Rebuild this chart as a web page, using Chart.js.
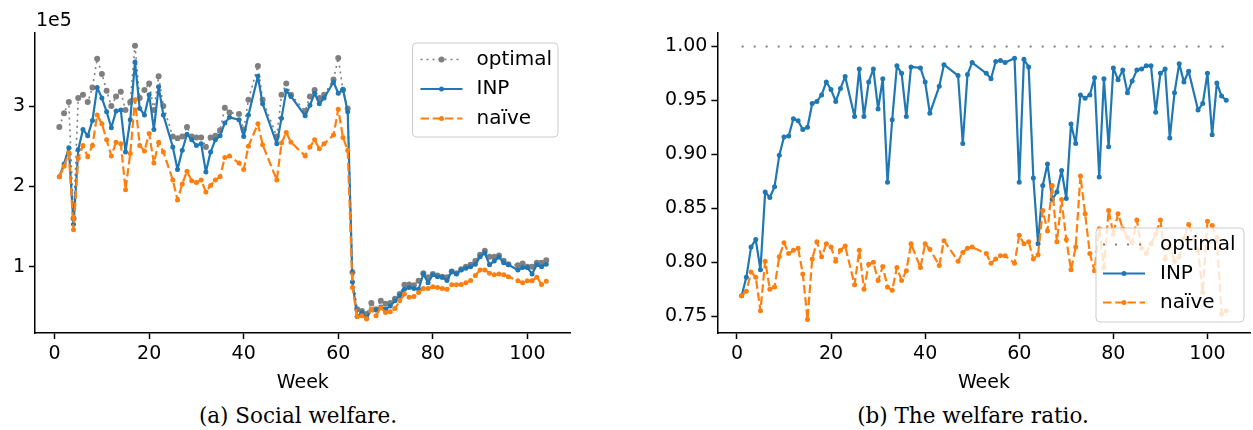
<!DOCTYPE html>
<html>
<head>
<meta charset="utf-8">
<script src="https://cdn.jsdelivr.net/npm/chart.js@4.4.1/dist/chart.umd.min.js"></script>
<style>
  html, body { margin: 0; padding: 0; background: #fff; }
  body { width: 1253px; height: 430px; position: relative; overflow: hidden; }
  .panel { position: absolute; top: 0; height: 400px; }
  .caption {
    position: absolute; top: 403px;
    font-family: "DejaVu Serif", "Liberation Serif", serif;
    font-size: 21.5px; color: #000; text-align: center; white-space: nowrap;
  }
</style>
</head>
<body>
<div class="panel" style="left:0;width:600px"><canvas id="welfare" width="600" height="400"></canvas></div>
<div class="panel" style="left:660px;width:593px"><canvas id="ratio" width="593" height="400"></canvas></div>
<div class="caption" style="left:0;width:596px">(a) Social welfare.</div>
<div class="caption" style="left:660px;width:626px">(b) The welfare ratio.</div>

<script>
// weeks with data (24, 38, 42, 45, 46, 51, 52, 58, 97 are missing)
const weeks = [
  1, 2, 3, 4, 5, 6, 7, 8, 9, 10, 11, 12, 13, 14, 15, 16, 17, 18, 19, 20, 21, 22, 23,
  25, 26, 27, 28, 29, 30, 31, 32, 33, 34, 35, 36, 37,
  39, 40, 41,
  43, 44,
  47, 48, 49, 50,
  53, 54, 55, 56, 57,
  59, 60, 61, 62, 63, 64, 65, 66, 67, 68, 69, 70, 71, 72, 73, 74, 75, 76, 77, 78,
  79, 80, 81, 82, 83, 84, 85, 86, 87, 88, 89, 90, 91, 92, 93, 94, 95, 96,
  98, 99, 100, 101, 102, 103, 104
];

// social welfare, in units of 1e5
const welfareOptimal = [
  2.74, 2.91, 3.05, 1.60, 3.10, 3.14, 3.05, 3.23, 3.59, 3.40, 3.19, 3.00, 3.12, 3.18, 2.95, 3.05, 3.75, 3.10, 3.20, 3.28, 2.95, 3.37, 3.00,
  2.62, 2.60, 2.62, 2.74, 2.62, 2.61, 2.61, 2.49, 2.61, 2.63, 2.70, 2.98, 2.92,
  2.90, 2.71, 3.08,
  3.50, 3.08,
  2.62, 3.14, 3.28, 3.14,
  2.94, 3.12, 3.20, 3.10, 3.14,
  3.33, 3.60, 3.20, 2.97, 0.93, 0.47, 0.45, 0.41, 0.55, 0.47, 0.575, 0.54, 0.55, 0.60, 0.66, 0.775, 0.78, 0.77, 0.825, 0.92,
  0.87, 0.91, 0.89, 0.875, 0.87, 0.94, 0.92, 0.97, 1.00, 1.025, 1.07, 1.15, 1.20, 1.125, 1.125, 1.14, 1.075, 1.03,
  1.02, 1.04, 1.00, 1.00, 1.05, 1.05, 1.08
];
const welfareINP = [
  2.12, 2.28, 2.48, 1.53, 2.46, 2.71, 2.63, 2.82, 3.23, 3.10, 2.93, 2.73, 2.94, 2.95, 2.43, 2.83, 3.55, 2.97, 2.89, 3.14, 2.71, 3.24, 2.89,
  2.49, 2.21, 2.45, 2.65, 2.58, 2.51, 2.53, 2.18, 2.43, 2.58, 2.63, 2.79, 2.86,
  2.83, 2.62, 2.89,
  3.37, 3.03,
  2.53, 2.85, 3.19, 3.12,
  2.88, 3.01, 3.16, 3.03, 3.10,
  3.30, 3.16, 3.21, 2.93, 0.81, 0.38, 0.43, 0.36, 0.47, 0.46, 0.50, 0.47, 0.51, 0.575, 0.64, 0.72, 0.74, 0.73, 0.72, 0.91,
  0.80, 0.90, 0.875, 0.87, 0.83, 0.94, 0.91, 0.96, 0.98, 1.00, 1.03, 1.125, 1.17, 1.025, 1.07, 1.12, 1.05, 1.025,
  0.96, 0.99, 0.99, 0.91, 1.025, 1.00, 1.03
];
const welfareNaive = [
  2.12, 2.25, 2.42, 1.46, 2.35, 2.51, 2.37, 2.51, 2.89, 2.78, 2.58, 2.38, 2.55, 2.53, 1.96, 2.41, 3.08, 2.51, 2.44, 2.66, 2.29, 2.55, 2.43,
  2.08, 1.83, 2.03, 2.19, 2.07, 2.05, 2.08, 1.93, 2.01, 2.08, 2.12, 2.36, 2.38,
  2.29, 2.21, 2.50,
  2.78, 2.52,
  2.08, 2.54, 2.67, 2.55,
  2.38, 2.49, 2.58, 2.47, 2.53,
  2.64, 2.96, 2.61, 2.45, 0.74, 0.38, 0.39, 0.35, 0.47, 0.39, 0.49, 0.43, 0.44, 0.48, 0.575, 0.66, 0.62, 0.63, 0.68, 0.73,
  0.73, 0.75, 0.74, 0.73, 0.72, 0.775, 0.775, 0.78, 0.80, 0.83, 0.89, 0.96, 0.96, 0.92, 0.90, 0.91, 0.90, 0.875,
  0.825, 0.80, 0.825, 0.825, 0.87, 0.78, 0.82
];

// welfare ratio
const ratioOptimal = [
  1, 1, 1, 1, 1, 1, 1, 1, 1, 1, 1, 1, 1, 1, 1, 1, 1, 1, 1, 1, 1, 1, 1,
  1, 1, 1, 1, 1, 1, 1, 1, 1, 1, 1, 1, 1,
  1, 1, 1,
  1, 1,
  1, 1, 1, 1,
  1, 1, 1, 1, 1,
  1, 1, 1, 1, 1, 1, 1, 1, 1, 1, 1, 1, 1, 1, 1, 1, 1, 1, 1, 1,
  1, 1, 1, 1, 1, 1, 1, 1, 1, 1, 1, 1, 1, 1, 1, 1, 1, 1,
  1, 1, 1, 1, 1, 1, 1
];
const ratioINP = [
  0.769, 0.786, 0.814, 0.821, 0.793, 0.865, 0.860, 0.870, 0.899, 0.916, 0.917, 0.933, 0.931, 0.923, 0.925, 0.947, 0.949, 0.955, 0.967, 0.960, 0.949, 0.961, 0.972,
  0.935, 0.979, 0.935, 0.967, 0.979, 0.942, 0.970, 0.874, 0.932, 0.982, 0.975, 0.935, 0.981,
  0.980, 0.967, 0.938,
  0.963, 0.983,
  0.973, 0.910, 0.974, 0.985,
  0.975, 0.970, 0.986, 0.987, 0.985,
  0.989, 0.874, 0.988, 0.981, 0.878, 0.817, 0.871, 0.891, 0.858, 0.865, 0.885, 0.859, 0.928, 0.910, 0.955, 0.952, 0.955, 0.971, 0.879, 0.970,
  0.907, 0.980, 0.969, 0.978, 0.957, 0.968, 0.978, 0.979, 0.982, 0.982, 0.939, 0.975, 0.979, 0.915, 0.957, 0.984, 0.967, 0.977,
  0.941, 0.947, 0.975, 0.918, 0.966, 0.954, 0.950
];
const ratioNaive = [
  0.769, 0.773, 0.791, 0.786, 0.755, 0.801, 0.775, 0.777, 0.805, 0.818, 0.808, 0.811, 0.813, 0.789, 0.747, 0.803, 0.819, 0.805, 0.817, 0.814, 0.801, 0.811, 0.815,
  0.779, 0.811, 0.775, 0.798, 0.800, 0.783, 0.796, 0.777, 0.774, 0.795, 0.783, 0.792, 0.817,
  0.795, 0.817, 0.812,
  0.797, 0.820,
  0.801, 0.809, 0.813, 0.814,
  0.808, 0.799, 0.803, 0.806, 0.806,
  0.799, 0.825, 0.817, 0.819, 0.803, 0.807, 0.848, 0.829, 0.871, 0.819, 0.858, 0.821, 0.793, 0.814, 0.880, 0.845, 0.808, 0.792, 0.831, 0.795,
  0.848, 0.826, 0.845, 0.831, 0.823, 0.818, 0.839, 0.813, 0.808, 0.817, 0.826, 0.839, 0.803, 0.815, 0.801, 0.805, 0.822, 0.835,
  0.811, 0.772, 0.838, 0.834, 0.823, 0.752, 0.755
];

const welfareTicks = [1, 2, 3];
const ratioTicks = [0.75, 0.80, 0.85, 0.90, 0.95, 1.00];

const BLUE = "#1f77b4";
const ORANGE = "#ff7f0e";
const GRAY = "#7f7f7f";
const FONT = "DejaVu Sans";

const toPoints = (vals) => weeks.map((w, i) => ({ x: w, y: vals[i] }));

// legend drawn inside the plot area, like matplotlib's
const insetLegend = {
  id: "insetLegend",
  afterDatasetsDraw(chart, args, opts) {
    const ctx = chart.ctx;
    ctx.save();
    ctx.beginPath();
    ctx.roundRect(opts.x, opts.y, opts.width, opts.height, 4);
    ctx.fillStyle = "rgba(255,255,255,0.8)";
    ctx.fill();
    ctx.strokeStyle = "#cccccc";
    ctx.lineWidth = 1;
    ctx.stroke();

    chart.data.datasets.forEach((ds, i) => {
      const cy = opts.y + opts.firstRow + i * opts.rowGap;
      const x0 = opts.x + opts.handleX;
      const x1 = x0 + opts.handleLen;
      ctx.setLineDash(ds.borderDash || []);
      ctx.lineDashOffset = 0;
      ctx.strokeStyle = ds.borderColor;
      ctx.lineWidth = ds.borderWidth;
      ctx.lineCap = "butt";
      ctx.beginPath();
      ctx.moveTo(x0, cy);
      ctx.lineTo(x1, cy);
      ctx.stroke();
      ctx.setLineDash([]);
      if (ds.pointRadius > 0) {
        ctx.beginPath();
        ctx.arc((x0 + x1) / 2, cy, ds.pointRadius, 0, Math.PI * 2);
        ctx.fillStyle = ds.borderColor;
        ctx.fill();
      }
      ctx.fillStyle = "#000";
      ctx.font = "20px '" + FONT + "'";
      ctx.textBaseline = "middle";
      ctx.textAlign = "left";
      ctx.fillText(ds.label, opts.x + opts.textX, cy);
    });
    ctx.restore();
  }
};

// "1e5" offset text above the y axis
const offsetText = {
  id: "offsetText",
  afterDraw(chart, args, opts) {
    if (!opts.text) return;
    const ctx = chart.ctx;
    ctx.save();
    ctx.fillStyle = "#000";
    ctx.font = "19px '" + FONT + "'";
    ctx.textBaseline = "middle";
    ctx.fillText(opts.text, opts.x, opts.y);
    ctx.restore();
  }
};

function lineSet(label, vals, color, opts) {
  return Object.assign({
    label,
    data: toPoints(vals),
    borderColor: color,
    backgroundColor: color,
    pointBackgroundColor: color,
    pointBorderWidth: 0,
    pointRadius: 2.5,
    pointHoverRadius: 0,
    borderWidth: 2.2,
    borderJoinStyle: "round",
    tension: 0,
    fill: false
  }, opts);
}

function makeChart(id, datasets, yMin, yMax, yTicks, yFmt, yWidth, padRight, legendOpts, offsetOpts) {
  const tickFont = { family: FONT, size: 19 };
  return new Chart(document.getElementById(id), {
    type: "line",
    data: { datasets },
    options: {
      responsive: false,
      animation: false,
      events: [],
      layout: { padding: { top: 33, left: 0, right: padRight, bottom: 0 } },
      plugins: {
        legend: { display: false },
        tooltip: { enabled: false },
        insetLegend: legendOpts,
        offsetText: offsetOpts
      },
      scales: {
        x: {
          type: "linear",
          min: -4.15,
          max: 109.15,
          border: { color: "#000", width: 1.5 },
          grid: { drawOnChartArea: false, drawTicks: true, tickLength: 6, tickColor: "#000", tickWidth: 1.5 },
          ticks: { stepSize: 20, includeBounds: false, color: "#000", font: tickFont, padding: 4, maxRotation: 0, autoSkip: false },
          title: { display: true, text: "Week", color: "#000", font: tickFont, padding: { top: 0, bottom: 6 } },
          afterFit: (s) => { s.height = 67; }
        },
        y: {
          type: "linear",
          min: yMin,
          max: yMax,
          border: { color: "#000", width: 1.5 },
          grid: { drawOnChartArea: false, drawTicks: true, tickLength: 6, tickColor: "#000", tickWidth: 1.5 },
          afterBuildTicks: (s) => { s.ticks = yTicks.map((v) => ({ value: v })); },
          ticks: { color: "#000", font: tickFont, padding: 4, autoSkip: false, callback: yFmt },
          afterFit: (s) => { s.width = yWidth; }
        }
      }
    },
    plugins: [insetLegend, offsetText]
  });
}

makeChart("welfare", [
  lineSet("optimal", welfareOptimal, GRAY, { borderDash: [2, 4], borderWidth: 1.6, pointRadius: 3, order: 3 }),
  lineSet("INP", welfareINP, BLUE, { order: 2 }),
  lineSet("naïve", welfareNaive, ORANGE, { borderDash: [8.5, 3.7], order: 1 })
], 0.175, 3.91, welfareTicks, (v) => String(v), 35, 29.4,
  { x: 412.5, y: 43, width: 145.5, height: 94, firstRow: 16.5, rowGap: 29.5, handleX: 8, handleLen: 42, textX: 64 },
  { text: "1e5", x: 36, y: 21 });

makeChart("ratio", [
  lineSet("optimal", ratioOptimal, GRAY, { borderDash: [2, 10], borderWidth: 2, pointRadius: 0, order: 3 }),
  lineSet("INP", ratioINP, BLUE, { order: 2 }),
  lineSet("naïve", ratioNaive, ORANGE, { borderDash: [8.5, 3.7], order: 1 })
], 0.7344, 1.0124, ratioTicks, (v) => v.toFixed(2), 57.4, 0,
  { x: 436, y: 228, width: 148, height: 94, firstRow: 16.5, rowGap: 29, handleX: 7, handleLen: 42, textX: 64 },
  {});
</script>
</body>
</html>
